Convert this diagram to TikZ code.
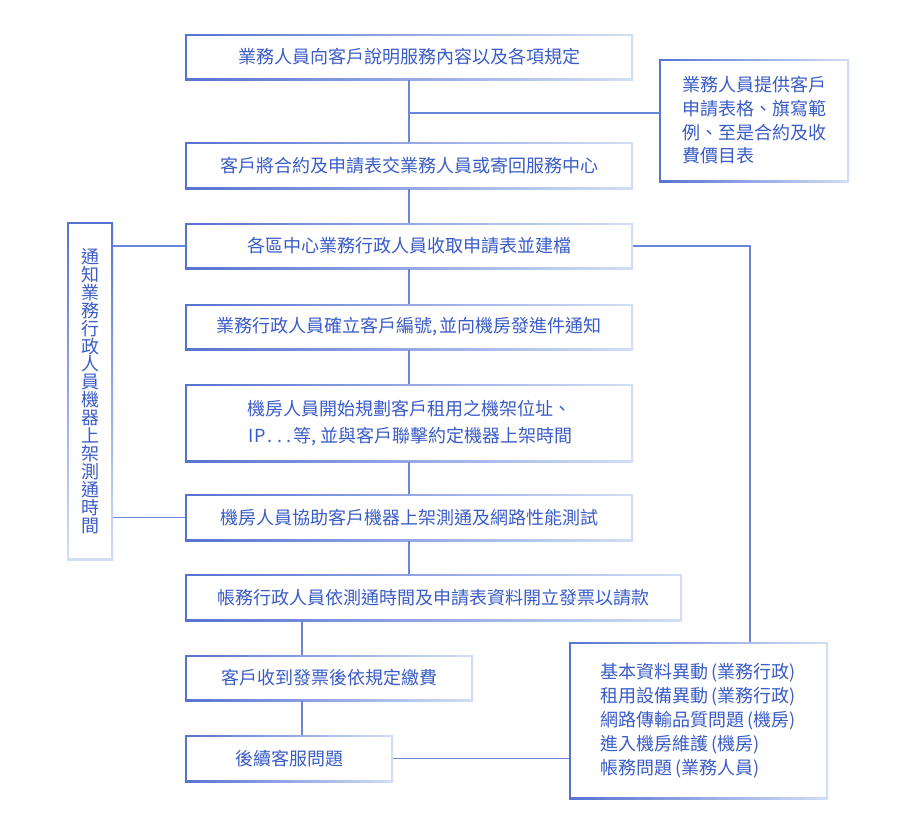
\documentclass[tikz,border=0pt]{standalone}
\usepackage{fontspec}
\newfontfamily\cjk{Noto Sans CJK TC}
\definecolor{txtblue}{RGB}{58,92,199}
\definecolor{bdark}{RGB}{85,115,210}
\definecolor{blight}{RGB}{210,222,245}
\definecolor{lnblue}{RGB}{105,135,218}
\newcommand\mc[1]{\makebox[9.6pt]{#1}}
\newcommand\pl{\,(}
\tikzset{
  boxbase/.style={rectangle, inner sep=0pt, text=txtblue,
    font=\cjk\fontsize{18}{24}\selectfont},
  hbox/.style={boxbase, path picture={
    \shade[left color=bdark,right color=blight]
      (path picture bounding box.south west) rectangle (path picture bounding box.north east);
    \fill[white] ([shift={(2pt,2pt)}]path picture bounding box.south west)
      rectangle ([shift={(-2pt,-2pt)}]path picture bounding box.north east);}},
  vbox/.style={boxbase, path picture={
    \shade[top color=bdark,bottom color=blight]
      (path picture bounding box.south west) rectangle (path picture bounding box.north east);
    \fill[white] ([shift={(2pt,2pt)}]path picture bounding box.south west)
      rectangle ([shift={(-2pt,-2pt)}]path picture bounding box.north east);}},
  conn/.style={draw=lnblue, line width=1.6pt}
}
\begin{document}
\begin{tikzpicture}[x=1pt,y=-1pt]
\useasboundingbox[fill=white] (0,0) rectangle (900,835);
\node[hbox, minimum width=448pt, minimum height=46pt] (b1) at (409,57) {業務人員向客戶說明服務內容以及各項規定};
\node[hbox, minimum width=448pt, minimum height=47pt] (b2) at (409,165.5) {客戶將合約及申請表交業務人員或寄回服務中心};
\node[hbox, minimum width=448pt, minimum height=46pt] (b3) at (409,246) {各區中心業務行政人員收取申請表並建檔};
\node[hbox, minimum width=448pt, minimum height=46pt] (b4) at (409,327) {業務行政人員確立客戶編號,\,並向機房發進件通知};
\node[hbox, minimum width=448pt, minimum height=78pt, align=center, font=\cjk\fontsize{18}{27.5}\selectfont] (b5) at (409,423) {機房人員開始規劃客戶租用之機架位址、\\\mc{I}\mc{P}\mc{.}\mc{.}\mc{.}等,\,並與客戶聯擊約定機器上架時間};
\node[hbox, minimum width=448pt, minimum height=47pt] (b6) at (409,517.5) {機房人員協助客戶機器上架測通及網路性能測試};
\node[hbox, minimum width=497pt, minimum height=47pt] (b7) at (433.5,597.5) {帳務行政人員依測通時間及申請表資料開立發票以請款};
\node[hbox, minimum width=288pt, minimum height=46pt] (b8) at (329,678) {客戶收到發票後依規定繳費};
\node[hbox, minimum width=208pt, minimum height=47pt] (b9) at (289,758.5) {後續客服問題};
\node[hbox, minimum width=190pt, minimum height=123pt, align=left, font=\cjk\fontsize{18}{23.7}\selectfont] (rt) at (754,120.5) {業務人員提供客戶\\申請表格、旗寫範\\例、至是合約及收\\費價目表};
\node[vbox, minimum width=46pt, minimum height=338pt, align=center, font=\cjk\fontsize{18}{17.9}\selectfont] (lf) at (90,391) {通\\知\\業\\務\\行\\政\\人\\員\\機\\器\\上\\架\\測\\通\\時\\間};
\node[hbox, minimum width=259pt, minimum height=157pt, align=left, font=\cjk\fontsize{18}{24}\selectfont] (rb) at (698.5,720.5) {基本資料異動\pl 業務行政)\\租用設備異動\pl 業務行政)\\網路傳輸品質問題\pl 機房)\\進入機房維護\pl 機房)\\帳務問題\pl 業務人員)};
\coordinate (j1) at (409,113);
\coordinate (j2) at (302,0);
\coordinate (j3) at (750,0);
\draw[conn] (b1.south) -- (b2.north);
\draw[conn] (j1) -- (j1 -| rt.west);
\draw[conn] (b2.south) -- (b3.north);
\draw[conn] (b3.south) -- (b4.north);
\draw[conn] (b4.south) -- (b5.north);
\draw[conn] (b5.south) -- (b6.north);
\draw[conn] (b6.south) -- (b6.south |- b7.north);
\draw[conn] (j2 |- b7.south) -- (j2 |- b8.north);
\draw[conn] (j2 |- b8.south) -- (j2 |- b9.north);
\draw[conn] (b9.east) -- (b9.east -| rb.west);
\draw[conn] (lf.east |- b3.west) -- (b3.west);
\draw[conn] (lf.east |- b6.west) -- (b6.west);
\draw[conn] (b3.east) -| (j3 |- rb.north);
\end{tikzpicture}
\end{document}
